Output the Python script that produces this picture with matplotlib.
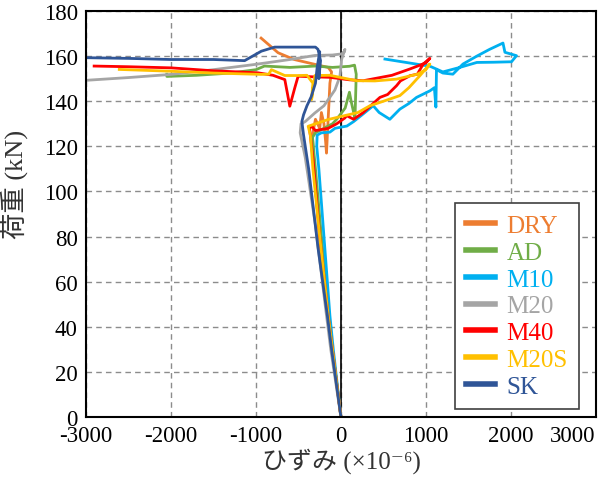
import matplotlib.pyplot as plt

plt.rcParams["font.family"] = ["Liberation Serif", "Noto Sans CJK JP", "DejaVu Serif"]
plt.rcParams["axes.unicode_minus"] = False

labels = ["DRY", "AD", "M10", "M20", "M40", "M20S", "SK"]
colors = ["#ED7D31", "#70AD47", "#00B0F0", "#A5A5A5", "#FF0000", "#FFC000", "#2F5597"]

dry_x = [0, -100, -150, -240, -320, -335, -300, -250, -230, -200, -180, -170, -160, -140, -130, -110,
         -150, -300, -550, -740, -940]
dry_y = [0, 30, 45, 75, 110, 125, 132, 128, 135, 130, 122, 117, 125, 140, 148, 153,
         155, 156.3, 158.5, 161.5, 168]

ad_x = [0, -100, -140, -230, -300, -335, -300, -200, -100, -50, 50, 100, 120, 150, 165, 175, 180,
        160, 100, -100, -300, -600, -900, -1000, -1300, -1700, -2050, -2050]
ad_y = [0, 30, 45, 80, 110, 124, 126, 128, 130, 132, 137, 144, 140, 135, 132, 145, 152,
        156, 155.5, 155, 155.6, 155, 155.6, 154, 152.5, 151.5, 151, 152]

m10_x = [0, -90, -130, -200, -260, -285, -280, -230, -130, -70, 0, 70, 150, 250, 380, 450, 576, 694,
         800, 890, 1047, 1100, 1118, 1125, 1200, 1318, 1437, 1600, 1750, 1908, 1931, 2067, 2008,
         1800, 1600, 1400, 1200, 1050, 800, 518]
m10_y = [0, 30, 45, 80, 110, 120, 125, 126, 126.3, 128, 128.5, 129, 131, 134, 138, 135, 132, 136.5,
         139, 141.7, 144.6, 146, 137.4, 154, 152.5, 152, 156.5, 160, 163, 165.8, 161.7, 160.2, 157.5,
         157.3, 157.2, 155, 153, 155.5, 157, 158.7]

m20_x = [0, -120, -180, -300, -420, -480, -470, -420, -307, -200, -150, -71, -12, 8, 20, 47, 40, 10,
         -100, -307, -600, -1016, -1500, -2000, -2500, -2992]
m20_y = [0, 30, 48, 85, 115, 126, 130, 131, 134.8, 138, 140.7, 145, 151, 158.5, 160, 163, 162, 161,
         160.5, 160.3, 158.5, 156.3, 154, 151.9, 150.5, 149.3]

m40_x = [0, -100, -150, -250, -330, -370, -346, -300, -150, -50, 47, 67, 150, 263, 350, 459, 550, 655,
         700, 812, 900, 969, 1047, 1000, 812, 600, 263, 100, -130, -307, -504, -543, -602, -661, -800,
         -976, -1500, -2000, -2500, -2906]
m40_y = [0, 30, 45, 80, 115, 128, 128.9, 127, 128, 130, 132.6, 133.6, 132, 135, 138, 141.7, 143, 146.9,
         149, 151.3, 152, 156.5, 159, 157, 154.3, 151.5, 149.1, 149.5, 150.6, 150.8, 151.1, 146, 137.8,
         149.6, 151.5, 152.6, 153.5, 154.8, 155.3, 155.6]

m20s_x = [0, -100, -150, -250, -330, -360, -386, -300, -150, 87, 200, 341, 500, 694, 800, 929, 1047,
          1000, 900, 655, 400, 184, -130, -307, -346, -330, -400, -500, -661, -819, -850, -937,
          -1500, -2000, -2610]
m20s_y = [0, 30, 45, 80, 110, 125, 128.9, 130, 131.9, 134, 135, 138, 140, 142.5, 146, 151.3, 156.5,
          154, 152, 149.8, 149, 149.1, 151.5, 151.4, 140.7, 148, 151.5, 151.4, 151.4, 154, 152, 151.9,
          152.5, 153.3, 154.1]

sk_x = [0, -110, -160, -270, -380, -440, -460, -440, -400, -350, -300, -280, -250, -260, -240, -270,
        -300, -386, -500, -780, -937, -1134, -1500, -2000, -2500, -2990]
sk_y = [0, 30, 45, 75, 110, 125, 131, 134, 138, 142, 148, 155, 162, 150, 158, 163,
        164, 164, 164, 164, 162.2, 158, 158.5, 158.5, 159, 159.3]

series = [(dry_x, dry_y), (ad_x, ad_y), (m10_x, m10_y), (m20_x, m20_y),
          (m40_x, m40_y), (m20s_x, m20s_y), (sk_x, sk_y)]

fig = plt.figure(figsize=(6.11, 4.81), dpi=100)
ax = fig.add_axes([0.141, 0.131, 0.834, 0.844])

ax.axvline(0, color="black", lw=1.2, zorder=1)
for (xs, ys), lab, col in zip(series, labels, colors):
    ax.plot(xs, ys, color=col, lw=2.0, label=lab, zorder=2)

ax.set_xlim(-3000, 3000)
ax.set_ylim(0, 180)
ax.set_xticks(range(-3000, 3001, 1000))
ax.set_yticks(range(0, 181, 20))
ax.tick_params(length=0, labelsize=16.5, pad=6)
# last x label sits inside the figure edge, like the original
ax.get_xticklabels()[-1].set_horizontalalignment("right")
ax.grid(True, color="#8c8c8c", ls=(0, (4, 3)), lw=1.0)
ax.set_axisbelow(True)
for sp in ax.spines.values():
    sp.set_linewidth(1.5)

ax.set_xlabel("ひずみ (×10⁻⁶)", fontsize=18, color="#333333")
ax.xaxis.set_label_coords(0.5, -0.075)
ax.set_ylabel("荷重 (kN)", fontsize=19, color="#333333")
ax.yaxis.set_label_coords(-0.115, 0.575)

leg = ax.legend(loc="lower right", bbox_to_anchor=(0.967, 0.02), borderaxespad=0,
                fontsize=18, labelcolor="linecolor", handlelength=1.15, handletextpad=0.45,
                labelspacing=0.17, fancybox=False, edgecolor="#404040", framealpha=1,
                borderpad=0.45)
leg.get_frame().set_linewidth(1.2)
for h in leg.get_lines():
    h.set_linewidth(4)

fig.savefig("out.png", dpi=100)
